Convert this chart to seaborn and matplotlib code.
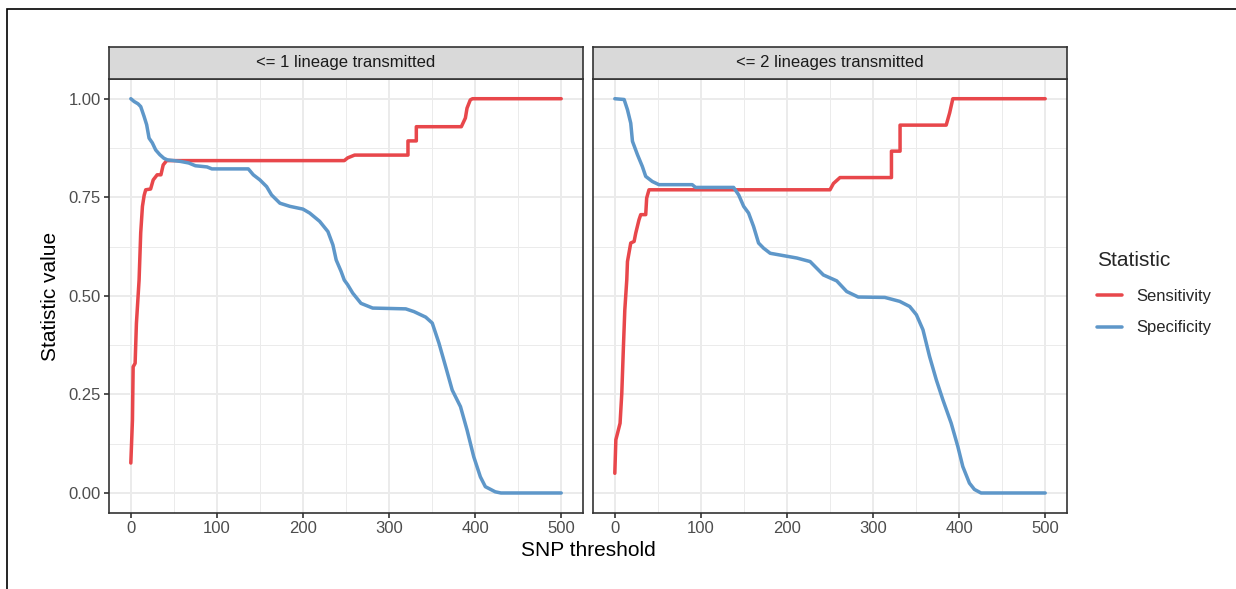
import numpy as np
import pandas as pd
import matplotlib
matplotlib.use("Agg")
import matplotlib.pyplot as plt
import seaborn as sns
from matplotlib.patches import Rectangle

# ---------------- data ----------------
panels = ["<= 1 lineage transmitted", "<= 2 lineages transmitted"]
statistics = ["Sensitivity", "Specificity"]
x_ticks = [0, 100, 200, 300, 400, 500]
y_ticks = [0.0, 0.25, 0.50, 0.75, 1.00]
y_tick_labels = ["0.00", "0.25", "0.50", "0.75", "1.00"]

p1_sens_x = [0, 1.9, 2.7, 5, 6.5, 9.6, 11.5, 13.5, 15.5, 17.3, 23, 26, 30.6, 35, 37.6, 41.6,
             248, 252, 260, 322, 322, 331.7, 331.7, 384, 388.7, 390.6, 394.4, 397, 500]
p1_sens_y = [0.076, 0.185, 0.32, 0.329, 0.43, 0.54, 0.66, 0.727, 0.755, 0.769, 0.771, 0.794, 0.807, 0.807, 0.832, 0.843,
             0.843, 0.85, 0.857, 0.857, 0.893, 0.893, 0.929, 0.929, 0.951, 0.976, 0.997, 1.0, 1.0]

p1_spec_x = [0, 3.8, 8.4, 11.5, 15.4, 18.4, 21.2, 25, 28.9, 33.7, 38.4, 42.3, 57.7, 67.3, 75, 88.5, 94.2,
             136.5, 142.3, 150, 157.8, 163.5, 173.2, 184.8, 200, 207.8, 219.4, 229, 234.8, 238.6, 244.3,
             248, 252, 257.8, 267.4, 281, 319.4, 329, 342.6, 350.2, 358, 365.7, 373.4, 383, 390.6,
             398.4, 406.1, 411.9, 423.4, 430, 500]
p1_spec_y = [1.0, 0.993, 0.987, 0.98, 0.955, 0.934, 0.90, 0.888, 0.87, 0.858, 0.849, 0.845, 0.841, 0.837, 0.83, 0.827, 0.822,
             0.822, 0.807, 0.794, 0.777, 0.756, 0.735, 0.727, 0.72, 0.71, 0.689, 0.663, 0.629, 0.591, 0.562,
             0.54, 0.528, 0.507, 0.481, 0.469, 0.467, 0.46, 0.446, 0.431, 0.38, 0.321, 0.261, 0.219, 0.16,
             0.092, 0.041, 0.016, 0.003, 0.0, 0.0]

p2_sens_x = [0, 1.2, 3.1, 6.1, 8.1, 10, 11.6, 13.9, 14.7, 18.5, 22.4, 24.3, 28.1, 30.1, 35.9, 37, 39.7,
             250, 254, 261.6, 321.4, 321.4, 331.4, 331.4, 385, 389, 392.7, 500]
p2_sens_y = [0.05, 0.135, 0.151, 0.177, 0.253, 0.371, 0.464, 0.541, 0.587, 0.634, 0.638, 0.659, 0.693, 0.706, 0.706, 0.748, 0.769,
             0.769, 0.785, 0.80, 0.80, 0.867, 0.867, 0.933, 0.933, 0.964, 1.0, 1.0]

p2_spec_x = [0, 10.8, 14.7, 18.5, 20.5, 26.3, 32, 35.9, 43.6, 51.3, 89.9, 93.8, 138, 143.9, 149.7, 155.4,
             161.2, 167, 172.8, 180.5, 195.9, 211.4, 226.9, 234.6, 242.3, 257.8, 269.4, 282.8, 313.7, 331,
             342.6, 350.4, 358, 365.7, 373.5, 381.2, 390.8, 398.5, 404.3, 412, 417.8, 425.5, 500]
p2_spec_y = [1.0, 0.998, 0.972, 0.938, 0.892, 0.858, 0.828, 0.803, 0.79, 0.782, 0.782, 0.775, 0.775, 0.756, 0.727, 0.71,
             0.676, 0.634, 0.621, 0.608, 0.602, 0.596, 0.587, 0.570, 0.553, 0.538, 0.511, 0.497, 0.496, 0.486,
             0.473, 0.452, 0.414, 0.346, 0.287, 0.236, 0.177, 0.118, 0.067, 0.025, 0.009, 0.0, 0.0]

series = [
    (panels[0], statistics[0], p1_sens_x, p1_sens_y),
    (panels[0], statistics[1], p1_spec_x, p1_spec_y),
    (panels[1], statistics[0], p2_sens_x, p2_sens_y),
    (panels[1], statistics[1], p2_spec_x, p2_spec_y),
]
rows = []
for pan, stat, xs, ys in series:
    for xv, yv in zip(xs, ys):
        rows.append({"panel": pan, "Statistic": stat, "threshold": xv, "value": yv})
df = pd.DataFrame(rows)

palette = {"Sensitivity": "#E8474B", "Specificity": "#5E97C9"}

# ---------------- style ----------------
sns.set_theme(style="white")
plt.rcParams["font.family"] = ["Liberation Sans", "DejaVu Sans"]

W, H, DPI = 1236, 589, 120
fig = plt.figure(figsize=(W / DPI, H / DPI), dpi=DPI)
fig.patch.set_facecolor("white")

def fx(px):
    return px / W

def fy(py):
    return 1 - py / H

panel_top, panel_bot = 79.0, 512.7
strip_top = 46.7
lefts = [109.3, 593.3]
pw = 582.7 - 109.3

grid_col = "#EBEBEB"
dark = "#333333"
tick_fs = 10.0
small_fs = 10.0
title_fs = 12.5

for i, pan in enumerate(panels):
    ax = fig.add_axes([fx(lefts[i]), fy(panel_bot), pw / W, (panel_bot - panel_top) / H])
    ax.set_facecolor("white")
    sub = df[df["panel"] == pan]
    sns.lineplot(data=sub, x="threshold", y="value", hue="Statistic", hue_order=statistics,
                 palette=palette, estimator=None, sort=False, lw=2.1, ax=ax,
                 legend=(i == 0))
    ax.set_xlim(-25, 525)
    ax.set_ylim(-0.05, 1.05)
    ax.set_xticks(x_ticks)
    ax.set_xticklabels([str(t) for t in x_ticks])
    ax.set_xticks([50, 150, 250, 350, 450], minor=True)
    ax.set_yticks(y_ticks)
    ax.set_yticklabels(y_tick_labels)
    ax.set_yticks([0.125, 0.375, 0.625, 0.875], minor=True)
    ax.grid(which="major", color=grid_col, lw=1.2)
    ax.grid(which="minor", color=grid_col, lw=0.6)
    ax.set_axisbelow(True)
    ax.tick_params(which="minor", length=0)
    ax.tick_params(which="major", length=2.75, width=1.0, color=dark, labelsize=tick_fs,
                   labelcolor="#4D4D4D", pad=2.2, bottom=True, left=True)
    if i == 1:
        ax.tick_params(axis="y", left=False, labelleft=False)
    for s in ax.spines.values():
        s.set_color(dark)
        s.set_linewidth(1.0)
        s.set_visible(True)
    ax.set_xlabel("")
    ax.set_ylabel("")
    if i == 0:
        handles, labels = ax.get_legend_handles_labels()
        ax.get_legend().remove()

    # strip
    sax = fig.add_axes([fx(lefts[i]), fy(panel_top), pw / W, (panel_top - strip_top) / H])
    sax.set_facecolor("#D9D9D9")
    sax.set_xticks([])
    sax.set_yticks([])
    for s in sax.spines.values():
        s.set_color(dark)
        s.set_linewidth(1.0)
        s.set_visible(True)
    sax.text(0.5, 0.5, pan, ha="center", va="center", fontsize=small_fs, color="#1A1A1A",
             transform=sax.transAxes)

fig.text(fx(588), fy(551), "SNP threshold", ha="center", va="center", fontsize=title_fs, color="black")
fig.text(fx(50), fy(296), "Statistic value", ha="center", va="center", rotation=90,
         fontsize=title_fs, color="black")

for h in handles:
    h.set_linewidth(2.1)
leg = fig.legend(handles, labels, title="Statistic", loc="upper left",
                 bbox_to_anchor=(fx(1089), fy(243)), frameon=False, fontsize=small_fs,
                 title_fontsize=title_fs, handlelength=1.5, handletextpad=0.85, labelspacing=1.0,
                 borderpad=0, alignment="left")
leg._legend_box.sep = 11

# outer frame (partially cropped)
fig.add_artist(Rectangle((fx(7), -0.2), 1.5, fy(9) + 0.2, transform=fig.transFigure,
                         fill=False, edgecolor="black", lw=1.0, clip_on=False))

fig.savefig("out.png", dpi=DPI, facecolor="white")
